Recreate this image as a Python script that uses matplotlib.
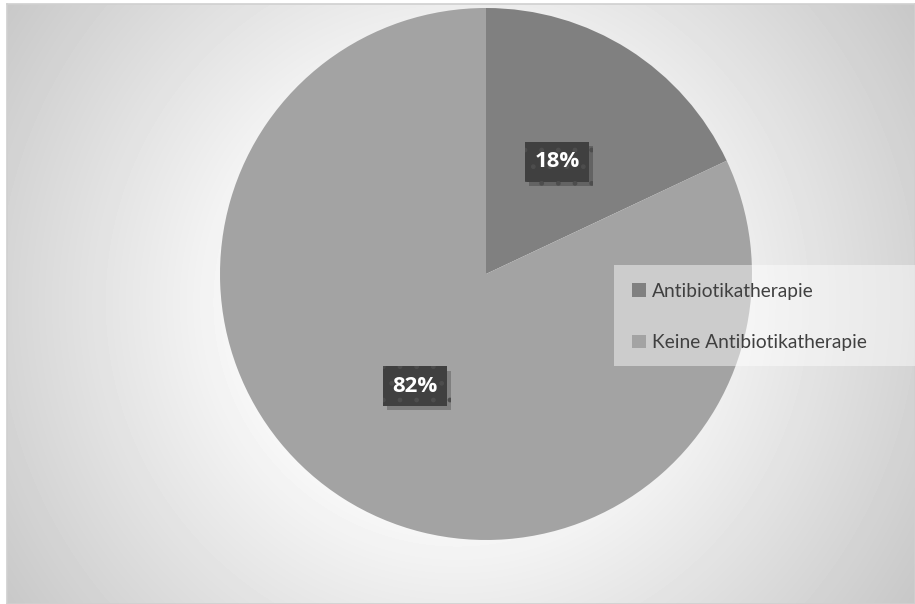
import numpy as np
import matplotlib.pyplot as plt
from matplotlib import patheffects as pe
from matplotlib.patches import Patch, Rectangle

labels = ['Antibiotikatherapie', 'Keine Antibiotikatherapie']
shares = [18, 82]
colors = ['#808080', '#a3a3a3']

plt.rcParams['hatch.linewidth'] = 1.0

W, H = 915, 604
fig = plt.figure(figsize=(W / 100, H / 100), dpi=100)
fig.patch.set_facecolor('white')

# chart area with a radial grey gradient
bg = fig.add_axes([7 / W, 0, 1 - 7 / W, 600 / H])
yy, xx = np.mgrid[4:604, 7:915]
d = np.hypot(xx - 457, yy - 302)
shade = np.clip(255 - 0.148 * np.maximum(d - 170, 0), 0, 255) / 255
bg.imshow(shade, cmap='gray', vmin=0, vmax=1, aspect='auto',
          extent=[0, 1, 0, 1], interpolation='bilinear')
bg.set_xlim(0, 1)
bg.set_ylim(0, 1)
bg.set_xticks([])
bg.set_yticks([])
for s in bg.spines.values():
    s.set_color('#d0d0d0')
    s.set_linewidth(1.2)

# pie
r = 266
cx, cy = 486, 274
ax = fig.add_axes([(cx - r) / W, (H - cy - r) / H, 2 * r / W, 2 * r / H])
ax.patch.set_alpha(0)
wedges, _, autotexts = ax.pie(shares, colors=colors, startangle=90,
                              counterclock=False, radius=1,
                              autopct='%1.0f%%', pctdistance=0.5,
                              wedgeprops=dict(linewidth=0))
ax.set_xlim(-1, 1)
ax.set_ylim(-1, 1)
ax.set_aspect('equal')

for t in autotexts:
    t.set_color('white')
    t.set_fontweight('bold')
    t.set_fontsize(16)
    t.set_fontfamily('Open Sans')
    t.set_bbox(dict(boxstyle='square,pad=0.42', facecolor='#404040',
                    edgecolor='#4d4d4d', linewidth=0, hatch='.'))
    t.get_bbox_patch().set_path_effects([
        pe.SimplePatchShadow(offset=(3, -3), shadow_rgbFace='black', alpha=0.22),
        pe.Normal()])

# legend panel reaching the right edge
fig.add_artist(Rectangle((614 / W, (H - 366) / H), 1 - 614 / W, 101 / H,
                         transform=fig.transFigure, facecolor='white',
                         alpha=0.45, edgecolor='none'))

handles = [Patch(facecolor=c, edgecolor='none') for c in colors]
leg = fig.legend(handles, labels, loc='center left',
                 bbox_to_anchor=(632 / W, (H - 317) / H),
                 frameon=False,
                 prop={'family': 'Lato', 'size': 13.8},
                 handlelength=0.72, handleheight=0.72, handletextpad=0.3,
                 labelspacing=1.8, borderpad=0, borderaxespad=0)
for txt in leg.get_texts():
    txt.set_color('#404040')

fig.savefig('out.png', dpi=100)
